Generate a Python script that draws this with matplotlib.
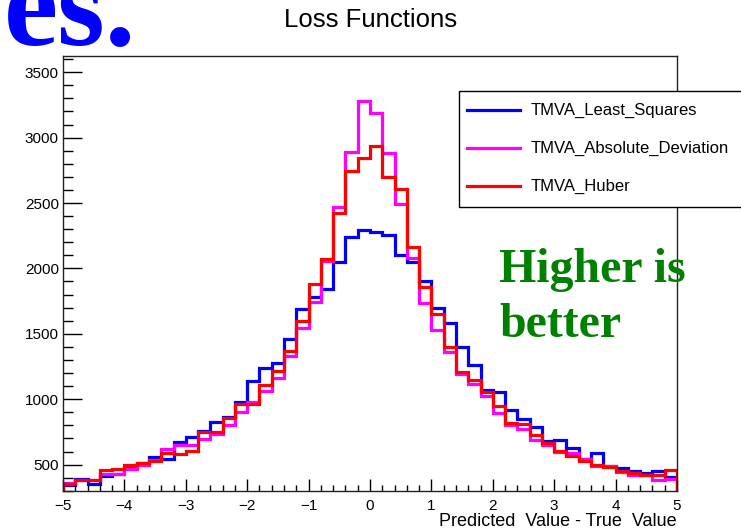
import numpy as np
import matplotlib.pyplot as plt
from matplotlib.patches import Rectangle
from matplotlib.lines import Line2D
from matplotlib.ticker import MultipleLocator

plt.rcParams['font.family'] = ['Liberation Sans', 'DejaVu Sans']

# 50 bins of width 0.2 between -5 and 5
bin_edges = np.linspace(-5, 5, 51)

least_squares = [342, 392, 354, 415, 426, 484, 510, 560, 545, 671,
                 713, 759, 826, 866, 979, 1137, 1239, 1279, 1463, 1690,
                 1779, 1845, 2049, 2240, 2294, 2281, 2253, 2105, 2049, 1904,
                 1700, 1580, 1401, 1262, 1073, 1055, 918, 852, 790, 683,
                 688, 629, 545, 591, 492, 476, 451, 433, 451, 403]

absolute_deviation = [359, 380, 380, 428, 426, 466, 495, 535, 622, 652,
                      650, 696, 734, 803, 900, 981, 1065, 1160, 1330, 1547,
                      1743, 2060, 2467, 2890, 3280, 3190, 2880, 2490, 2077, 1733,
                      1529, 1361, 1193, 1114, 1025, 897, 800, 775, 688, 648,
                      599, 587, 545, 489, 489, 446, 421, 421, 382, 392]

huber = [350, 380, 380, 457, 466, 495, 515, 530, 587, 579,
         604, 747, 752, 859, 961, 966, 1109, 1218, 1369, 1600,
         1881, 2069, 2426, 2745, 2842, 2936, 2701, 2609, 2161, 1860,
         1650, 1396, 1205, 1147, 1057, 948, 820, 811, 724, 663,
         606, 566, 528, 497, 484, 451, 433, 421, 421, 457]

series_names = ['TMVA_Least_Squares', 'TMVA_Absolute_Deviation', 'TMVA_Huber']
series_colors = ['#0000ff', '#ff00ff', '#ff0000']

W, H = 741, 532


def fx(px):
    return px / W


def fy(py):
    return 1 - py / H


fig = plt.figure(figsize=(W / 100, H / 100), dpi=100)
ax = fig.add_axes([fx(63), fy(491), (677 - 63) / W, (491 - 56) / H])

for vals, col in zip([least_squares, absolute_deviation, huber], series_colors):
    ax.stairs(vals, bin_edges, baseline=0, color=col, lw=2.3)

ax.set_xlim(-5, 5)
ax.set_ylim(298, 3624)
ax.xaxis.set_major_locator(MultipleLocator(1))
ax.xaxis.set_minor_locator(MultipleLocator(0.2))
ax.yaxis.set_major_locator(MultipleLocator(500))
ax.yaxis.set_minor_locator(MultipleLocator(100))
ax.tick_params(axis='both', which='both', direction='in', labelsize=11,
               top=False, right=False, width=1)
ax.tick_params(axis='x', which='major', length=9, pad=6)
ax.tick_params(axis='x', which='minor', length=4.5)
ax.tick_params(axis='y', which='major', length=14, pad=3)
ax.tick_params(axis='y', which='minor', length=7.5)
for sp in ax.spines.values():
    sp.set_linewidth(1)
    sp.set_color('#222222')

# axis title sits right-aligned under the x axis
fig.text(fx(677), fy(522), 'Predicted  Value - True  Value', ha='right',
         va='center', fontsize=13)

fig.text(fx(371), fy(20), 'Loss Functions', ha='center', va='center',
         fontsize=18.5)

# leftover slide heading in the corner
fig.text(fx(136), fy(45), 'es.', ha='right', va='baseline', color='#0000ff',
         fontsize=88, fontweight='bold', family='Liberation Serif')

# legend box
fig.add_artist(Rectangle((fx(459), fy(207)), 290 / W, 116 / H,
                         transform=fig.transFigure, facecolor='white',
                         edgecolor='black', lw=1, zorder=5))
for i, (name, col) in enumerate(zip(series_names, series_colors)):
    row_y = fy(110 + 38 * i)
    fig.add_artist(Line2D([fx(467), fx(520)], [row_y, row_y], color=col,
                          lw=2.3, transform=fig.transFigure, zorder=6))
    fig.text(fx(531), row_y, name, ha='left', va='center', fontsize=12,
             zorder=6)

fig.text(fx(499), fy(282), 'Higher is', ha='left', va='baseline',
         color='#008000', fontsize=34.5, fontweight='bold',
         family='Liberation Serif')
fig.text(fx(499), fy(337), 'better', ha='left', va='baseline',
         color='#008000', fontsize=34.5, fontweight='bold',
         family='Liberation Serif')

fig.savefig('out.png', dpi=100)
